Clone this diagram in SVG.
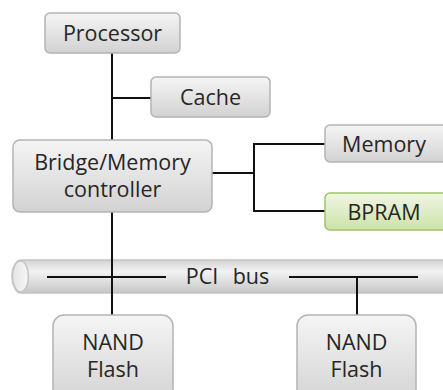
<svg xmlns="http://www.w3.org/2000/svg" width="443" height="390" viewBox="0 0 443 390">
<defs>
<linearGradient id="gray" x1="0" y1="0" x2="0" y2="1">
<stop offset="0" stop-color="#f5f5f5"/>
<stop offset="1" stop-color="#d2d2d2"/>
</linearGradient>
<linearGradient id="green" x1="0" y1="0" x2="0" y2="1">
<stop offset="0" stop-color="#f0f6e4"/>
<stop offset="1" stop-color="#cde2a8"/>
</linearGradient>
<linearGradient id="bus" x1="0" y1="0" x2="0" y2="1">
<stop offset="0" stop-color="#d4d4d4"/>
<stop offset="0.35" stop-color="#f2f2f2"/>
<stop offset="0.6" stop-color="#e2e2e2"/>
<stop offset="1" stop-color="#c6c6c6"/>
</linearGradient>
<linearGradient id="cap" x1="0" y1="0" x2="1" y2="0">
<stop offset="0" stop-color="#e6e6e6"/>
<stop offset="1" stop-color="#f6f6f6"/>
</linearGradient>
</defs>
<style>
.box{fill:url(#gray);stroke:#b4b4b4;stroke-width:1.5}
.gbox{fill:url(#green);stroke:#9cc36c;stroke-width:1.5}
.t{font-family:"Open Sans","Noto Sans",sans-serif;font-size:21.5px;fill:#262626;text-anchor:middle}
.c{fill:none;stroke:#111;stroke-width:2}
</style>
<g id="bus-node">
<rect x="12" y="260" width="445" height="33" rx="9" ry="16.5" fill="url(#bus)" stroke="#c4c4c4" stroke-width="1.5"/>
<ellipse cx="20.5" cy="276.5" rx="8" ry="15.5" fill="url(#cap)" stroke="#c4c4c4" stroke-width="1.5"/>
<text class="t" x="202" y="284">PCI</text>
<text class="t" x="251" y="284">bus</text>
</g>
<g id="connectors">
<path class="c" d="M112 53V315"/>
<path class="c" d="M112 98H151"/>
<path class="c" d="M212 173H254"/>
<path class="c" d="M325 144H254V211H325"/>
<path class="c" d="M47 277H166"/>
<path class="c" d="M289 277H418"/>
<path class="c" d="M357 277V315"/>
</g>
<g id="processor">
<rect class="box" x="45" y="13" width="135" height="40" rx="5"/>
<text class="t" x="112.5" y="41">Processor</text>
</g>
<g id="cache">
<rect class="box" x="151" y="77" width="119" height="40" rx="5"/>
<text class="t" x="210.5" y="105">Cache</text>
</g>
<g id="bridge">
<rect class="box" x="13" y="140" width="199" height="72" rx="7"/>
<text class="t" x="112.5" y="170">Bridge/Memory</text>
<text class="t" x="112.5" y="197">controller</text>
</g>
<g id="memory">
<rect class="box" x="325" y="125" width="125" height="37" rx="5"/>
<text class="t" x="384" y="152">Memory</text>
</g>
<g id="bpram">
<rect class="gbox" x="325" y="193" width="125" height="37" rx="5"/>
<text class="t" x="384" y="220">BPRAM</text>
</g>
<g id="nand1">
<rect class="box" x="53" y="315" width="120" height="90" rx="11"/>
<text class="t" x="113" y="350">NAND</text>
<text class="t" x="113" y="377">Flash</text>
</g>
<g id="nand2">
<rect class="box" x="297" y="315" width="119" height="90" rx="11"/>
<text class="t" x="356.5" y="350">NAND</text>
<text class="t" x="356.5" y="377">Flash</text>
</g>
</svg>
